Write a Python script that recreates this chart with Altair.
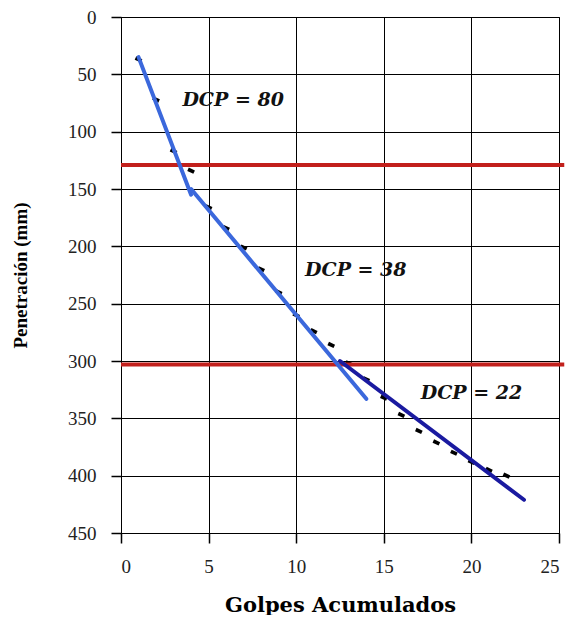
import altair as alt
import pandas as pd

# Measured data (blows vs penetration)
golpes = list(range(1, 23))
penetracion = [37, 72, 117, 134, 166, 184, 201, 220, 240, 260, 274, 286,
               302, 316, 332, 347, 361, 371, 380, 388, 395, 400]

# Fitted segments
seg_names = ["DCP = 80", "DCP = 80", "DCP = 38", "DCP = 38", "DCP = 22", "DCP = 22"]
seg_x = [1, 4, 4, 14, 12.5, 23]
seg_y = [35, 155, 150, 333, 300, 421]
seg_colors = {"DCP = 80": "#3b68dc", "DCP = 38": "#3b68dc", "DCP = 22": "#1a1aa0"}

# Layer boundaries
limites = [129, 303]

# Labels
lab_text = ["DCP = 80", "DCP = 38", "DCP = 22"]
lab_x = [6.4, 13.4, 20.0]
lab_y = [72, 221, 328]

font = "Liberation Serif"
font2 = "DejaVu Serif"

pts = pd.DataFrame({"x": golpes, "y": penetracion})
segs = pd.DataFrame({"seg": seg_names, "x": seg_x, "y": seg_y})
rl = pd.DataFrame({"y": limites, "x": [0] * len(limites), "x2": [25.3] * len(limites)})
labs = pd.DataFrame({"t": lab_text, "x": lab_x, "y": lab_y})

xs = alt.Scale(domain=[0, 25], nice=False)
ys = alt.Scale(domain=[0, 450], reverse=True, nice=False)

xaxis = alt.Axis(values=[0, 5, 10, 15, 20, 25], title="Golpes Acumulados", grid=True,
                 gridColor="black", gridOpacity=1, ticks=True, tickColor="black",
                 tickOpacity=1, tickWidth=1.5, tickSize=10,
                 labelPadding=14, titlePadding=18, titleFont=font2, titleFontSize=21)
yaxis = alt.Axis(values=list(range(0, 451, 50)), title="Penetración (mm)", grid=True,
                 gridColor="black", gridOpacity=1, ticks=True, tickColor="black",
                 tickOpacity=1, tickWidth=1.5, tickSize=10,
                 labelPadding=15, titlePadding=37, titleFont=font, titleFontSize=19)

dash = "M-1,-0.55L1,-0.55L1,0.55L-1,0.55Z"

base_pts = alt.Chart(pts).mark_point(shape=dash, filled=True, color="black",
                                     size=45, opacity=1, angle=25).encode(
    x=alt.X("x:Q", scale=xs, axis=xaxis),
    y=alt.Y("y:Q", scale=ys, axis=yaxis),
)

lines = alt.Chart(segs).mark_line(strokeWidth=4, strokeCap="round").encode(
    x=alt.X("x:Q", scale=xs, axis=xaxis),
    y=alt.Y("y:Q", scale=ys, axis=yaxis),
    detail="seg:N",
    color=alt.Color("seg:N", scale=alt.Scale(domain=list(seg_colors.keys()),
                                             range=list(seg_colors.values())), legend=None),
)

red = alt.Chart(rl).mark_rule(color="#c2201c", strokeWidth=4, clip=False).encode(
    x=alt.X("x:Q", scale=xs, axis=xaxis), x2="x2:Q", y=alt.Y("y:Q", scale=ys, axis=yaxis)
)

text = alt.Chart(labs).mark_text(font=font2, fontSize=19, fontWeight="bold",
                                 fontStyle="italic", color="#111111").encode(
    x=alt.X("x:Q", scale=xs, axis=xaxis), y=alt.Y("y:Q", scale=ys, axis=yaxis), text="t:N"
)

chart = alt.layer(base_pts, red, lines, text).properties(
    width=438, height=516,
    padding={"left": 3, "top": 0, "right": 0, "bottom": 0},
).configure_view(stroke="black", strokeWidth=1).configure_axis(
    domainColor="black", labelFont=font, labelFontSize=19, labelColor="#222222",
    titleFontWeight="bold", titleColor="black",
)

chart.save("out.html", embed_options={"renderer": "svg", "actions": False})
